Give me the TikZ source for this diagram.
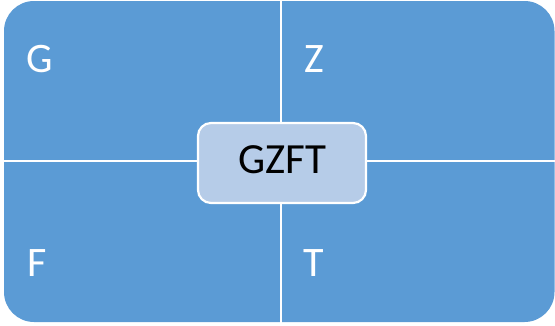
\documentclass[tikz,border=0pt]{standalone}
\usepackage{fontspec}
\setmainfont{Carlito}
\definecolor{quadblue}{HTML}{5B9BD5}
\definecolor{centerblue}{HTML}{B6CCE8}
\begin{document}
\begin{tikzpicture}[x=1pt,y=1pt,
  quadlabel/.style={text=white,font=\fontsize{42}{46}\selectfont,inner sep=0pt,anchor=base west},
  sepline/.style={draw=white,line width=2.8pt},
  centerbox/.style={draw=white,line width=2.2pt,fill=centerblue,rounded corners=13pt,minimum width=168pt,minimum height=80pt,inner sep=0pt}]
\useasboundingbox (0,0) rectangle (555,325);
\fill[quadblue,rounded corners=30pt] (4,3) rectangle (554.5,324);
\coordinate (topmid) at (281,326);
\coordinate (botmid) at (281,-1);
\coordinate (leftmid) at (3,164);
\coordinate (rightmid) at (556,164);
\draw[sepline] (topmid) -- (botmid);
\draw[sepline] (leftmid) -- (rightmid);
\node[centerbox] (c) at (282,162) {};
\node[font=\fontsize{43}{47}\selectfont,inner sep=0pt,anchor=base] (ct) at (282,152) {GZFT};
\node[quadlabel] (g) at (26,253) {G};
\node[quadlabel] (z) at (304,253) {Z};
\node[quadlabel] (f) at (27,49) {F};
\node[quadlabel] (t) at (303,49) {T};
\end{tikzpicture}
\end{document}
